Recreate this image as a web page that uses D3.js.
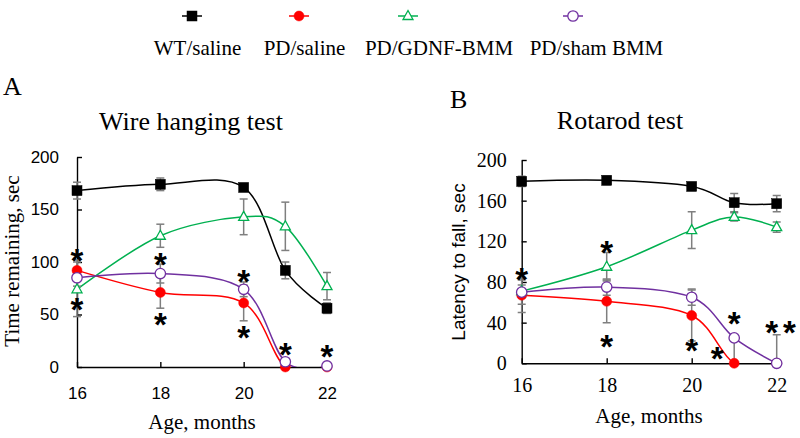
<!DOCTYPE html>
<html>
<head>
<meta charset="utf-8">
<script src="https://cdn.jsdelivr.net/npm/d3@7/dist/d3.min.js"></script>
<style>
  html, body { margin: 0; padding: 0; background: #fff; }
  svg { display: block; }
</style>
</head>
<body>
<svg id="chart" width="800" height="438"></svg>
<script>
// ---------------- DATA ----------------
const months = [16, 18, 20, 21, 22];
const xTickValues = [16, 18, 20, 22];
const seriesNames = ["WT/saline", "PD/saline", "PD/GDNF-BMM", "PD/sham BMM"];

// Panel A: Wire hanging test (time remaining, sec)
const wireWT      = [168, 174, 171, 92, 56];
const wireWTErr   = [8, 6, 3, 8, 5];
const wirePD      = [92, 71, 61, 0, 0];
const wirePDErr   = [10, 15, 17, 0, 0];
const wireGDNF    = [74, 125, 143, 134, 77];
const wireGDNFErr = [26, 11, 17, 23, 13];
const wireSham    = [85, 89, 74, 5, 1];
const wireShamErr = [8, 9, 7, 2, 0];
const wireYTicks  = [0, 50, 100, 150, 200];
const wireStarX   = [16, 16, 18, 18, 20, 20, 21, 22];
const wireStarY   = [109, 62, 105, 48, 89, 35, 19, 17];

// Panel B: Rotarod test (latency to fall, sec)
const rotWT      = [179, 180, 174, 158, 157];
const rotWTErr   = [5, 4, 2, 9, 8];
const rotPD      = [67, 61, 47, 0, 0];
const rotPDErr   = [17, 21, 25, 0, 0];
const rotGDNF    = [71, 95, 131, 144, 134];
const rotGDNFErr = [6, 14, 18, 4, 5];
const rotSham      = [70, 75, 65, 25, 0];
const rotShamErrUp = [12, 8, 8, 0, 28];
const rotShamErrDn = [12, 8, 8, 25, 0];
const rotYTicks  = [0, 40, 80, 120, 160, 200];
const rotStarX   = [16, 18, 18, 20, 20.6, 21, 21.88, 22.3];
const rotStarY   = [90, 117, 24, 20, 12, 47, 38, 38];

// ---------------- STYLES ----------------
const colors = ["#000000", "#ff0000", "#00b050", "#7030a0"];
const markerKinds = ["square", "circle", "triangle", "opencircle"];
const errColor = "#7f7f7f";
const serif = "'Liberation Serif', 'Times New Roman', serif";
const sans = "'Liberation Sans', Arial, sans-serif";

const svg = d3.select("#chart");

function drawMarker(g, kind, color, x, y) {
  if (kind === "square") {
    g.append("rect").attr("x", x - 5).attr("y", y - 5).attr("width", 10).attr("height", 10)
      .attr("fill", color).attr("stroke", color).attr("stroke-width", 0.5);
  } else if (kind === "circle") {
    g.append("circle").attr("cx", x).attr("cy", y).attr("r", 5)
      .attr("fill", color).attr("stroke", color).attr("stroke-width", 0.5);
  } else if (kind === "opencircle") {
    g.append("circle").attr("cx", x).attr("cy", y).attr("r", 5.2)
      .attr("fill", "#fff").attr("stroke", color).attr("stroke-width", 1.3);
  } else if (kind === "triangle") {
    g.append("path")
      .attr("d", `M${x},${y - 5.5}L${x + 5},${y + 3.5}L${x - 5},${y + 3.5}Z`)
      .attr("fill", "#fff").attr("stroke", color).attr("stroke-width", 1.3);
  }
}

function drawPanel(cfg) {
  const x = d3.scaleLinear().domain([16, 22]).range([cfg.x0, cfg.x1]);
  const y = d3.scaleLinear().domain([0, 200]).range([cfg.y0, cfg.y1]);
  const g = svg.append("g");

  const clipId = "clip" + cfg.id;
  svg.append("clipPath").attr("id", clipId).append("rect")
    .attr("x", cfg.x0 - 20).attr("y", cfg.y1 - 5)
    .attr("width", cfg.x1 - cfg.x0 + 40).attr("height", cfg.y0 - cfg.y1 + 5);

  // axes
  const yAxis = d3.axisLeft(y).tickValues(cfg.yTicks).tickSizeInner(-5).tickSizeOuter(0)
    .tickPadding(cfg.yPad);
  const ya = g.append("g").attr("transform", `translate(${cfg.x0},0)`).call(yAxis);
  ya.select(".domain").attr("stroke", "#000").attr("stroke-width", 1.4);
  ya.selectAll(".tick line").attr("stroke", "#000").attr("stroke-width", 1.4);
  ya.selectAll(".tick text").attr("font-family", cfg.tickFont).attr("font-size", cfg.tickSize)
    .attr("fill", "#000");

  const xAxis = d3.axisBottom(x).tickValues(xTickValues).tickSizeInner(-5).tickSizeOuter(0)
    .tickPadding(cfg.xPad).tickFormat(d3.format("d"));
  const xa = g.append("g").attr("transform", `translate(0,${cfg.y0})`).call(xAxis);
  xa.select(".domain").attr("stroke", "#000").attr("stroke-width", 1.4);
  xa.selectAll(".tick line").attr("stroke", "#000").attr("stroke-width", 1.4);
  xa.selectAll(".tick text").attr("font-family", cfg.tickFont).attr("font-size", cfg.tickSize)
    .attr("fill", "#000");

  const line = d3.line().x(d => x(d[0])).y(d => y(d[1])).curve(d3.curveCardinal.tension(0));

  const clipped = g.append("g").attr("clip-path", `url(#${clipId})`);
  // lines
  cfg.series.forEach((s, i) => {
    clipped.append("path").datum(months.map((m, j) => [m, s[j]]))
      .attr("d", line).attr("fill", "none").attr("stroke", colors[i]).attr("stroke-width", 1.5);
  });
  // error bars (up / down)
  cfg.series.forEach((s, i) => {
    const eu = cfg.errUp[i], ed = cfg.errDn[i];
    months.forEach((m, j) => {
      const cx = x(m);
      [[eu[j], 1], [ed[j], -1]].forEach(([e, sign]) => {
        if (!e) return;
        const yy = y(s[j] + sign * e);
        clipped.append("line").attr("x1", cx).attr("x2", cx).attr("y1", y(s[j])).attr("y2", yy)
          .attr("stroke", errColor).attr("stroke-width", 1.5);
        clipped.append("line").attr("x1", cx - 4).attr("x2", cx + 4).attr("y1", yy).attr("y2", yy)
          .attr("stroke", errColor).attr("stroke-width", 1.5);
      });
    });
  });
  // markers
  cfg.series.forEach((s, i) => {
    months.forEach((m, j) => drawMarker(g, markerKinds[i], colors[i], x(m), y(s[j])));
  });
  // asterisks
  const fs = 33;
  cfg.starX.forEach((sx, k) => {
    g.append("text").attr("x", x(sx)).attr("y", y(cfg.starY[k]) + 0.58 * fs)
      .attr("text-anchor", "middle").attr("font-family", sans).attr("font-size", fs)
      .attr("font-weight", "bold").attr("fill", "#000").text("*");
  });

  // titles & labels
  g.append("text").attr("x", cfg.letterX).attr("y", cfg.letterY).attr("font-family", serif)
    .attr("font-size", 26).attr("fill", "#000").text(cfg.letter);
  g.append("text").attr("x", cfg.titleX).attr("y", cfg.titleY).attr("text-anchor", "middle")
    .attr("font-family", serif).attr("font-size", 26).attr("fill", "#000").text(cfg.title);
  g.append("text").attr("x", cfg.xLabX).attr("y", cfg.xLabY).attr("text-anchor", "middle")
    .attr("font-family", serif).attr("font-size", 21).attr("fill", "#000").text("Age, months");
  g.append("text").attr("transform", `translate(${cfg.yLabX},${cfg.yLabY}) rotate(-90)`)
    .attr("text-anchor", "middle").attr("font-family", cfg.yLabFont).attr("font-size", cfg.yLabSize)
    .attr("fill", "#000").text(cfg.yLabel);
}

drawPanel({
  id: "A", x0: 77, x1: 327, y0: 367, y1: 157,
  yTicks: wireYTicks, yPad: 18, xPad: 20, tickFont: sans, tickSize: 17,
  series: [wireWT, wirePD, wireGDNF, wireSham],
  errUp: [wireWTErr, wirePDErr, wireGDNFErr, wireShamErr],
  errDn: [wireWTErr, wirePDErr, wireGDNFErr, wireShamErr],
  starX: wireStarX, starY: wireStarY,
  letter: "A", letterX: 3, letterY: 95,
  title: "Wire hanging test", titleX: 191, titleY: 130,
  xLabX: 202, xLabY: 429,
  yLabel: "Time remaining, sec", yLabX: 19, yLabY: 261, yLabFont: serif, yLabSize: 21
});

drawPanel({
  id: "B", x0: 521.7, x1: 776.7, y0: 363.3, y1: 160,
  yTicks: rotYTicks, yPad: 15, xPad: 15, tickFont: serif, tickSize: 20,
  series: [rotWT, rotPD, rotGDNF, rotSham],
  errUp: [rotWTErr, rotPDErr, rotGDNFErr, rotShamErrUp],
  errDn: [rotWTErr, rotPDErr, rotGDNFErr, rotShamErrDn],
  starX: rotStarX, starY: rotStarY,
  letter: "B", letterX: 450, letterY: 108,
  title: "Rotarod test", titleX: 620, titleY: 129,
  xLabX: 649, xLabY: 423,
  yLabel: "Latency to fall, sec", yLabX: 465, yLabY: 262, yLabFont: sans, yLabSize: 19
});

// ---------------- LEGEND ----------------
const legendMarkerX = [192, 299, 408, 573];
const legendTextX = [197.5, 304.5, 439, 596.5];
const legend = svg.append("g");
seriesNames.forEach((name, i) => {
  const mx = legendMarkerX[i];
  legend.append("line").attr("x1", mx - 10).attr("x2", mx + 10).attr("y1", 16).attr("y2", 16)
    .attr("stroke", colors[i]).attr("stroke-width", 1.5);
  drawMarker(legend, markerKinds[i], colors[i], mx, 16);
  legend.append("text").attr("x", legendTextX[i]).attr("y", 55).attr("text-anchor", "middle")
    .attr("font-family", serif).attr("font-size", 21).attr("fill", "#000").text(name);
});
</script>
</body>
</html>
